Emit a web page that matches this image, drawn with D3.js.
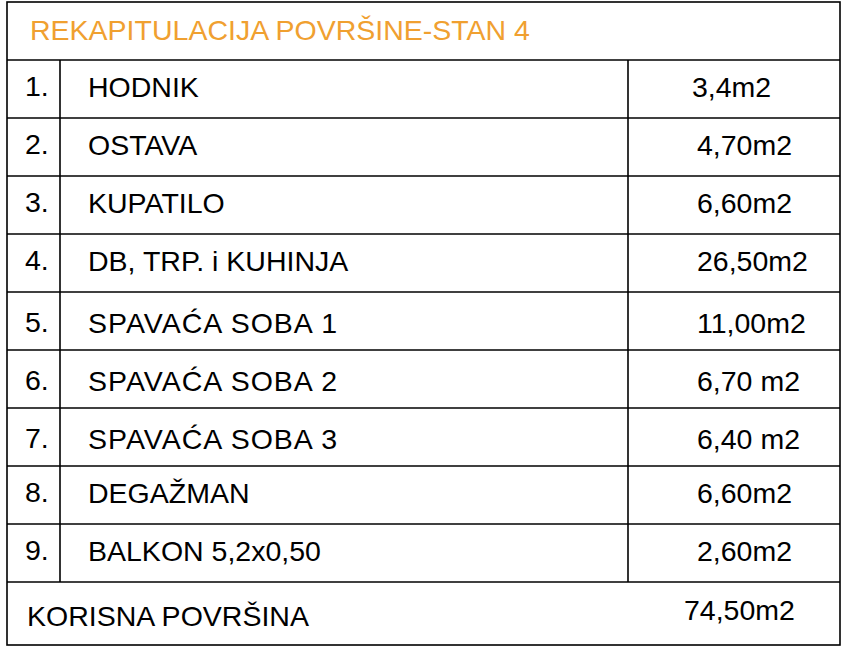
<!DOCTYPE html>
<html><head><meta charset="utf-8">
<script src="https://cdn.jsdelivr.net/npm/d3@7"></script>
<style>body{margin:0;background:#fff}</style></head>
<body><svg id="c" width="844" height="647"></svg>
<script>
const title = "REKAPITULACIJA POVRŠINE-STAN 4";
const nums = ["1.", "2.", "3.", "4.", "5.", "6.", "7.", "8.", "9."];
const rooms = ["HODNIK", "OSTAVA", "KUPATILO", "DB, TRP. i KUHINJA", "SPAVAĆA SOBA 1",
  "SPAVAĆA SOBA 2", "SPAVAĆA SOBA 3", "DEGAŽMAN", "BALKON 5,2x0,50"];
const areas = ["3,4m2", "4,70m2", "6,60m2", "26,50m2", "11,00m2", "6,70 m2", "6,40 m2", "6,60m2", "2,60m2"];
const totalLabel = "KORISNA POVRŠINA";
const totalValue = "74,50m2";

const svg = d3.select("#c");
const L = 7, R = 840, T = 2, B = 645;
const rowTop = 60, rowH = 58;
const y = d3.scaleLinear().domain([0, nums.length]).range([rowTop, rowTop + rowH * nums.length]);
const colA = 60, colB = 628;
const font = "Liberation Sans, Arial, sans-serif";
const stroke = (x1, y1, x2, y2) => svg.append("line").attr("x1", x1).attr("y1", y1).attr("x2", x2).attr("y2", y2)
  .attr("stroke", "#000").attr("stroke-width", 1.6);

svg.append("rect").attr("x", L).attr("y", T).attr("width", R - L).attr("height", B - T)
  .attr("fill", "none").attr("stroke", "#000").attr("stroke-width", 1.6);
d3.range(nums.length + 1).forEach(i => stroke(L, y(i), R, y(i)));
stroke(colA, y(0), colA, y(nums.length));
stroke(colB, y(0), colB, y(nums.length));

const txt = (x, yy, s, fill) => svg.append("text").attr("x", x).attr("y", yy).text(s)
  .attr("font-family", font).attr("font-size", 28.5).attr("fill", fill || "#000");

txt(30, 40, title, "#f0a030");
nums.forEach((n, i) => {
  const spav = i >= 4 && i <= 6;
  const base = y(i) + rowH / 2 + 8 + (spav ? 4 : 0);
  txt(25, base - 1, n);
  txt(88, base, rooms[i]).attr("letter-spacing", spav ? 1 : 0);
  txt(i === 0 ? 692 : 697, base, areas[i]);
});
txt(27, y(nums.length) + 44, totalLabel);
txt(684, y(nums.length) + 38, totalValue);
</script></body></html>
